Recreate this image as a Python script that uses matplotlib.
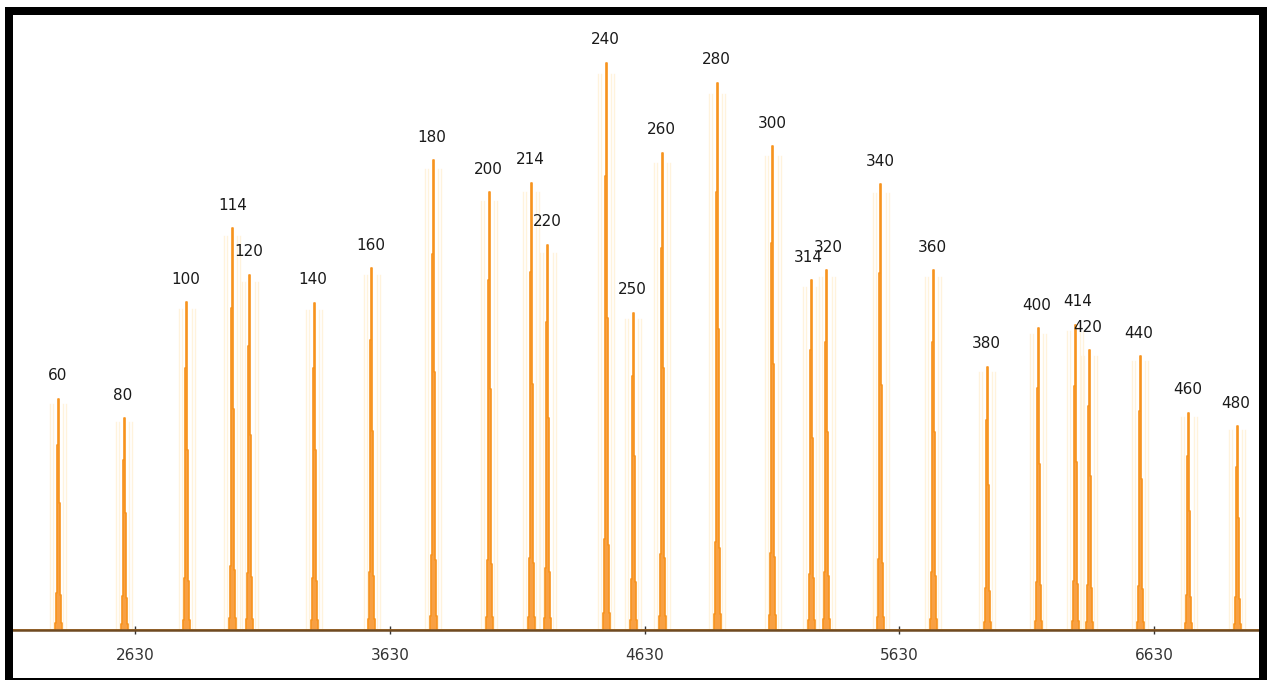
import numpy as np
import matplotlib.pyplot as plt
from matplotlib.patches import Rectangle

# Fragment sizes (bp) and the scan point / signal height of each peak
sizes = [60, 80, 100, 114, 120, 140, 160, 180, 200, 214, 220, 240, 250, 260,
         280, 300, 314, 320, 340, 360, 380, 400, 414, 420, 440, 460, 480]
scan_points = [2328, 2587, 2834, 3011, 3081, 3333, 3560, 3800, 4020, 4185,
               4251, 4479, 4585, 4699, 4915, 5134, 5284, 5346, 5558, 5763,
               5975, 6175, 6320, 6375, 6575, 6767, 6956]
heights = [231, 212, 328, 402, 355, 327, 362, 470, 438, 447, 385, 567, 317,
           477, 547, 484, 350, 360, 446, 360, 263, 302, 305, 280, 274, 217, 204]
tick_values = [2630, 3630, 4630, 5630, 6630]

W, H = 1269, 681
fig = plt.figure(figsize=(W / 100, H / 100), dpi=100)
fig.patch.set_facecolor("white")


def fx(px):
    return px / W


def fy(py):
    return 1 - py / H


def frame_bar(left, top, right, bottom):
    fig.add_artist(Rectangle((fx(left), fy(bottom)), fx(right) - fx(left),
                             fy(top) - fy(bottom), transform=fig.transFigure,
                             facecolor="black", edgecolor="none", zorder=10))


ax = fig.add_axes([fx(13), fy(640), fx(1259) - fx(13), fy(15) - fy(640)])
x_min, x_max = 2151, 7042
ax.set_xlim(x_min, x_max)
ax.set_ylim(-10, 615)
unit = (x_max - x_min) / (1259 - 13)  # scan points per pixel

# sampled peak profile (relative offsets in pixels, relative heights)
prof_dx = np.arange(-4, 5) * 1.0
prof_rel = np.array([0, 0.03, 0.16, 0.8, 1.0, 0.55, 0.15, 0.03, 0])

trace_x = [x_min]
trace_y = [0.0]
for pos, h in zip(scan_points, heights):
    trace_x.extend(pos + prof_dx * unit)
    trace_y.extend(h * prof_rel)
trace_x.append(x_max)
trace_y.append(0.0)
trace_x = np.array(trace_x)
trace_y = np.array(trace_y)

# faint halo lines beside each peak
for pos, h in zip(scan_points, heights):
    for d in (-8, -5, 5, 8):
        ax.plot([pos + d * unit] * 2, [0, h * 0.98], color="#fff3dc", lw=1.0,
                zorder=1)

ax.fill_between(trace_x, 0, trace_y, step="mid", color="#f8a043", lw=0,
                zorder=2)
ax.plot(trace_x, trace_y, drawstyle="steps-mid", color="#f7931e", lw=1.2,
        zorder=3)

# peak size labels
label_dx = {114: 1, 314: -3, 320: 1, 414: 3, 400: -1}
for s, pos, h in zip(sizes, scan_points, heights):
    ax.annotate(str(s), (pos, h), xytext=(label_dx.get(s, -1), 23),
                textcoords="offset pixels", ha="center", va="center",
                fontsize=11, color="#1a1a1a", family="DejaVu Sans", zorder=5)

for side in ("top", "left", "right"):
    ax.spines[side].set_visible(False)
ax.spines["bottom"].set_position(("data", 0))
ax.spines["bottom"].set_color("#6e4a22")
ax.spines["bottom"].set_linewidth(1.8)
ax.spines["bottom"].set_zorder(4)
ax.set_yticks([])
ax.set_xticks(tick_values)
ax.set_xticklabels([str(v) for v in tick_values])
ax.tick_params(axis="x", direction="inout", length=6, width=1, color="#333333",
               pad=10, labelsize=11, labelcolor="#333333")
ax.patch.set_alpha(0)

# black frame around the plot
frame_bar(5, 7, 1267, 15)
frame_bar(5, 7, 13, 680)
frame_bar(1259, 7, 1267, 680)
frame_bar(5, 678, 1267, 680)

fig.savefig("out.png", dpi=100)
